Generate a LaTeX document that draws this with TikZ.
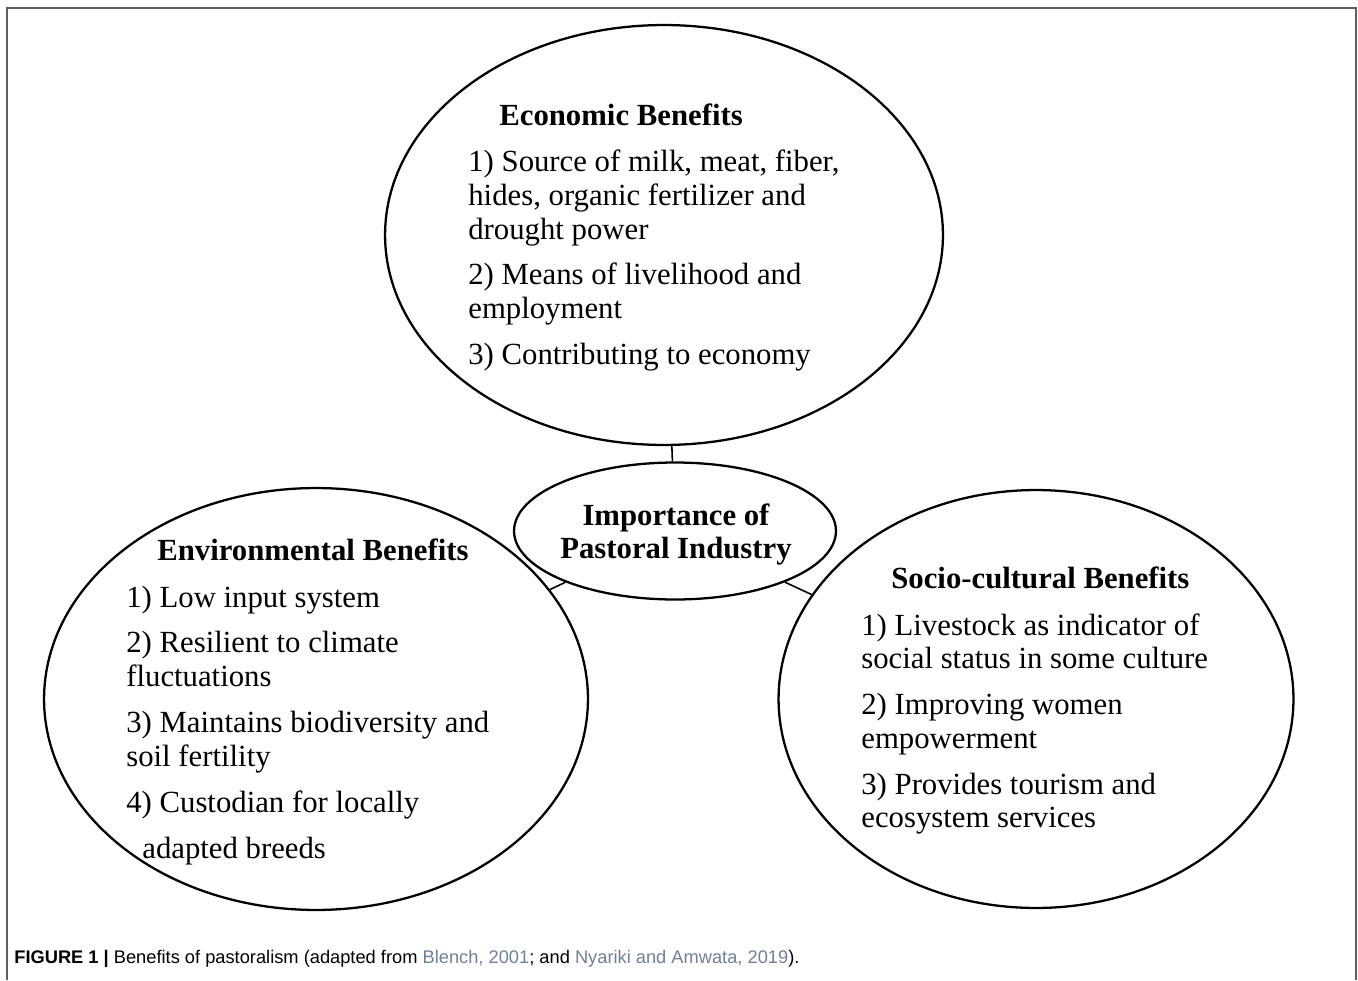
\documentclass[tikz,border=0pt]{standalone}
\usepackage{fontspec}
\setmainfont{Liberation Serif}
\setsansfont{Liberation Sans}
\usetikzlibrary{shapes.geometric}

\definecolor{citeblue}{RGB}{112,128,150}
\definecolor{framegray}{RGB}{95,95,95}

\begin{document}
\begin{tikzpicture}[x=0.02cm, y=-0.02cm,
    bubble/.style={ellipse, draw=black, line width=1.3pt, inner sep=0pt},
    headline/.style={font=\fontsize{17.5}{19.3}\selectfont\bfseries, anchor=base west, inner sep=0pt},
    itemline/.style={font=\fontsize{17.5}{19.3}\selectfont, anchor=base west, inner sep=0pt},
    link/.style={draw=black, line width=0.9pt}
    ]
        \useasboundingbox (0,0) rectangle (1358,980);
        %Frame
        \draw[framegray, line width=1.1pt] (7,980) -- (7,8) -- (1356,8) -- (1356,980);

        %Ellipses
        \node[bubble, minimum width=11.16cm, minimum height=8.4cm]
            (econ)   at (664,235)  {};
        \node[bubble, minimum width=6.44cm, minimum height=2.74cm]
            (core)   at (675,531)  {};
        \node[bubble, minimum width=10.88cm, minimum height=8.44cm]
            (env)    at (316,699)  {};
        \node[bubble, minimum width=10.3cm, minimum height=8.36cm]
            (socio)  at (1036,699) {};

        %Texts
        \node[headline, anchor=base, align=center] (core-t) at (676,558)
            {Importance of\\[-1pt]Pastoral Industry};
        \node[headline] (econ-h)  at (499,126)  {Economic Benefits};
        \node[headline] (env-h)   at (157,560)  {Environmental Benefits};
        \node[headline] (socio-h) at (891,588)  {Socio-cultural Benefits};

        \foreach \y/\t [count=\i] in {171/{1) Source of milk, meat, fiber,},
                205/{hides, organic fertilizer and}, 239/{drought power},
                284/{2) Means of livelihood and}, 318/{employment},
                364/{3) Contributing to economy}}
            \node[itemline] (econ-\i) at (468,\y) {\t};

        \foreach \y/\t [count=\i] in {607/{1) Low input system},
                652/{2) Resilient to climate}, 686/{fluctuations},
                732/{3) Maintains biodiversity and}, 766/{soil fertility},
                812/{4) Custodian for locally}}
            \node[itemline] (env-\i) at (126,\y) {\t};
        \node[itemline] (env-7) at (142,858) {adapted breeds};

        \foreach \y/\t [count=\i] in {635/{1) Livestock as indicator of},
                668/{social status in some culture},
                714/{2) Improving women}, 748/{empowerment},
                794/{3) Provides tourism and}, 827/{ecosystem services}}
            \node[itemline] (socio-\i) at (861,\y) {\t};

        %Lines
        \draw[link] (econ) -- (core);
        \draw[link] (env) -- (core);
        \draw[link] (socio) -- (core);

        %Caption
        \node[anchor=base west, inner sep=0pt, font=\sffamily\fontsize{10.4}{12}\selectfont]
            (caption) at (14,963)
            {\textbf{FIGURE 1 |} Benefits of pastoralism (adapted from
            \textcolor{citeblue}{Blench, 2001}; and
            \textcolor{citeblue}{Nyariki and Amwata, 2019}).};
    \end{tikzpicture}
\end{document}
